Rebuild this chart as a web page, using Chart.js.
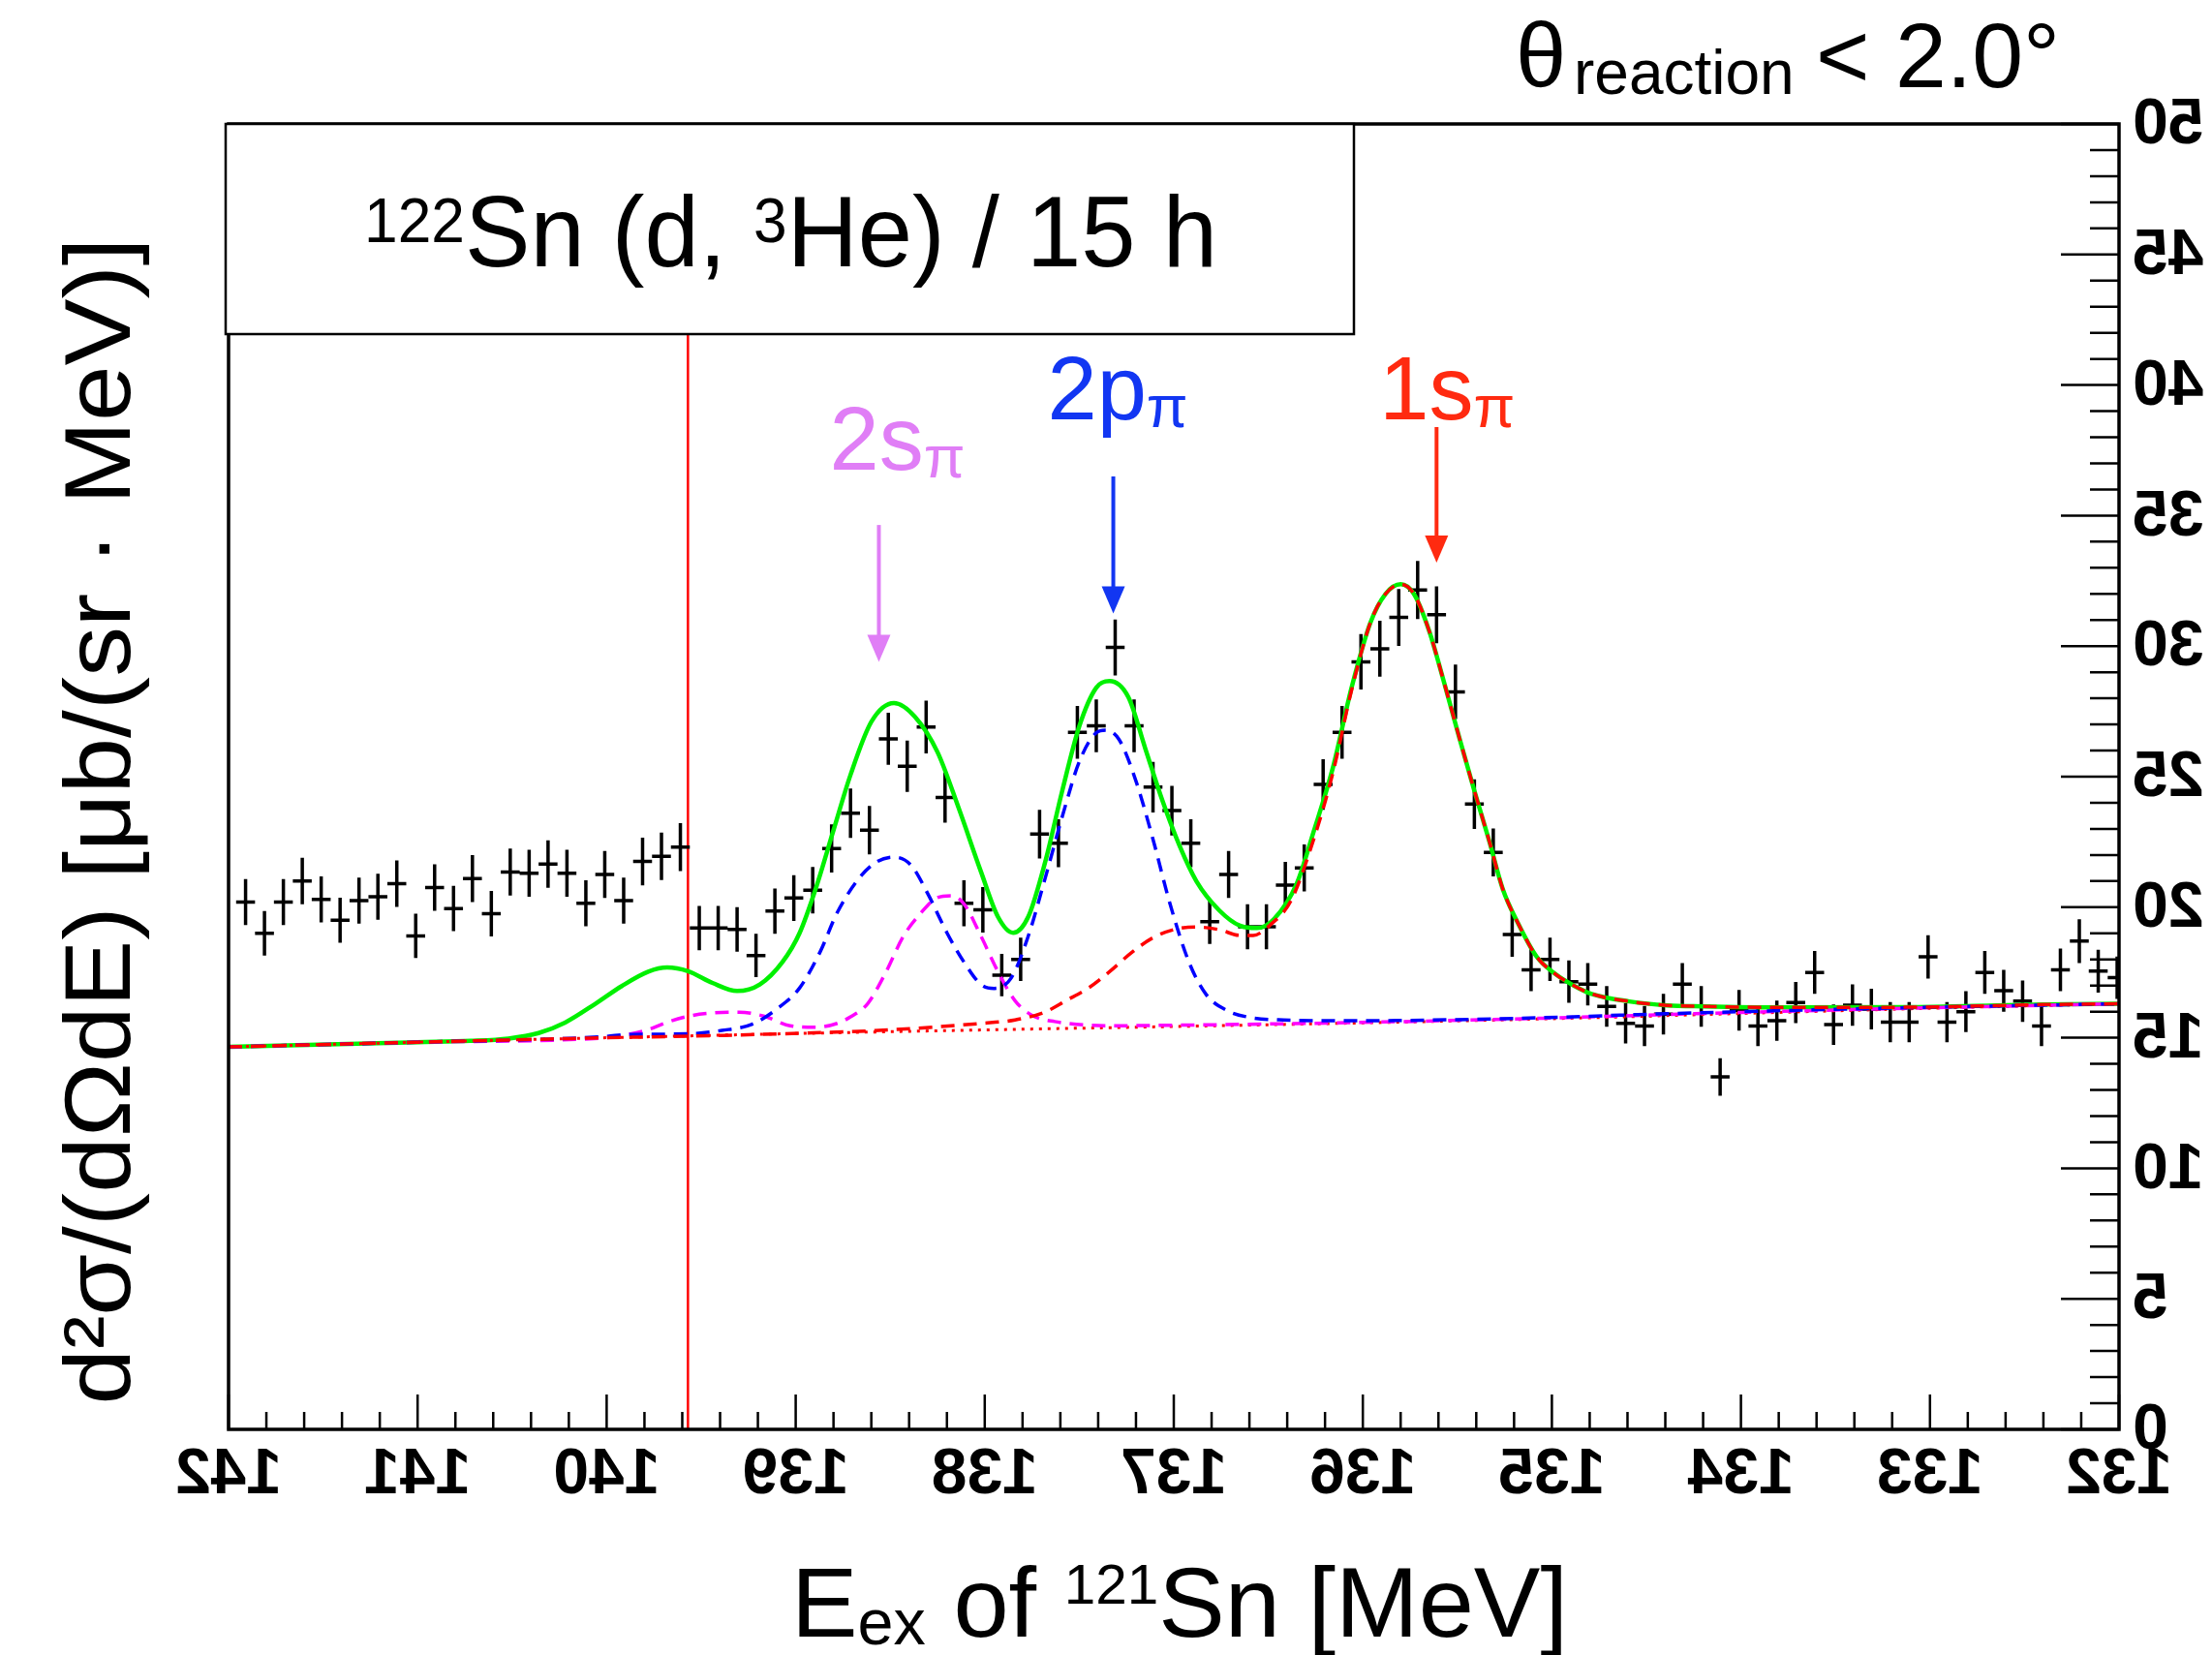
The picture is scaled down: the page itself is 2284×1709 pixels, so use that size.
<!DOCTYPE html>
<html><head><meta charset="utf-8">
<script src="https://cdn.jsdelivr.net/npm/chart.js@4.4.1/dist/chart.umd.min.js"></script>
<style>html,body{margin:0;padding:0;background:#fff;}canvas{display:block;}</style>
</head><body>
<canvas id="c" width="2284" height="1709"></canvas>
<script>
// ---------------- data ----------------
const binStart = 141.91;   // first bin centre [MeV]
const binWidth = 0.1;      // bin width [MeV]
const counts = [
 20.2,19.0,20.2,21.0,20.3,19.5,20.25,20.4,20.9,18.9,
 20.75,19.95,21.1,19.75,21.35,21.3,21.65,21.3,20.15,21.25,
 20.25,21.75,21.95,22.3,19.2,19.2,19.15,18.15,19.85,20.35,
 20.65,22.25,23.6,22.95,26.45,25.4,26.9,24.2,20.15,19.9,
 17.4,18.0,22.8,22.45,26.7,26.95,29.95,26.95,24.6,23.7,
 22.45,19.45,21.25,19.25,19.25,20.85,21.5,24.7,26.7,29.4,
 29.9,31.1,32.15,31.2,28.25,23.95,22.1,18.95,17.6,18.0,
 17.15,17.05,16.2,15.55,15.45,15.9,17.05,16.2,13.5,16.05,
 15.45,15.65,16.35,17.5,15.5,16.25,16.1,15.6,15.6,18.1,
 15.6,16.0,17.5,16.8,16.4,15.45,17.6,18.7,17.55,17.3];
const errors = [
 .88,.85,.88,.89,.88,.86,.88,.88,.89,.85,
 .89,.87,.90,.87,.90,.90,.91,.90,.88,.90,
 .88,.91,.91,.92,.85,.85,.85,.83,.87,.88,
 .89,.92,.95,.93,1.00,.98,1.01,.96,.88,.87,
 .81,.83,.93,.92,1.01,1.01,1.07,1.01,.97,.95,
 .92,.86,.90,.86,.86,.89,.90,.97,1.01,1.06,
 1.07,1.09,1.11,1.09,1.04,.95,.92,.85,.82,.83,
 .81,.81,.78,.77,.77,.78,.81,.78,.72,.78,
 .77,.77,.79,.82,.77,.79,.78,.77,.77,.83,
 .77,.78,.82,.80,.79,.77,.82,.84,.82,.81];

// total fit (green)
const totalE = [142.0,141.0,140.72,140.52,140.36,140.22,140.06,139.92,139.78,139.68,139.57,139.44,139.31,139.19,139.07,138.98,138.89,138.80,138.71,138.60,138.48,138.37,138.25,138.14,138.02,137.93,137.85,137.77,137.68,137.59,137.50,137.41,137.34,137.24,137.15,137.06,136.97,136.88,136.76,136.65,136.56,136.47,136.35,136.26,136.16,136.06,135.96,135.88,135.80,135.73,135.65,135.57,135.49,135.41,135.33,135.26,135.18,135.08,134.98,134.88,134.79,134.59,134.39,134.20,133.80,133.10,132.40,132.0];
const totalV = [14.65,14.83,14.88,14.97,15.18,15.58,16.30,16.98,17.53,17.69,17.55,17.10,16.79,17.04,17.90,19.00,20.80,22.95,25.07,27.10,27.82,27.30,25.94,23.84,21.36,19.63,19.02,19.63,21.74,24.46,26.93,28.41,28.66,28.04,26.06,24.08,22.36,20.99,19.88,19.29,19.20,19.55,20.90,22.90,25.30,28.40,30.90,32.00,32.37,32.00,30.60,28.60,26.50,24.46,22.50,20.70,19.40,18.10,17.43,16.98,16.68,16.39,16.24,16.20,16.16,16.17,16.27,16.30];

// 2p component + background (blue dashed)
const p2E = [142.0,141.0,140.0,139.9,139.57,139.39,139.23,139.10,138.98,138.87,138.78,138.66,138.57,138.48,138.39,138.30,138.20,138.11,138.02,137.95,137.86,137.77,137.68,137.59,137.50,137.41,137.36,137.29,137.20,137.11,137.02,136.92,136.83,136.72,136.60,136.42,136.06,135.2,134.4,134.0,133.0,132.4,132.0];
const p2V = [14.65,14.83,15.05,15.12,15.15,15.28,15.52,16.10,16.90,18.30,19.80,21.15,21.74,21.92,21.61,20.50,19.02,17.90,17.04,16.89,17.29,18.89,21.12,23.47,25.57,26.68,26.78,26.43,24.83,22.60,20.13,17.90,16.67,16.05,15.78,15.68,15.65,15.74,15.92,16.00,16.17,16.25,16.30];

// 2s component + background (magenta dashed)
const s2E = [142.0,141.0,140.0,139.92,139.78,139.67,139.55,139.44,139.30,139.17,139.03,138.90,138.78,138.71,138.62,138.53,138.43,138.34,138.25,138.18,138.11,138.02,137.93,137.84,137.75,137.63,137.34,136.88,136.06,135.2,134.0,133.0,132.0];
const s2V = [14.65,14.83,15.00,15.08,15.31,15.62,15.85,15.95,15.98,15.83,15.46,15.40,15.55,15.80,16.30,17.41,18.89,19.76,20.37,20.44,20.13,18.89,17.53,16.42,15.86,15.62,15.46,15.49,15.58,15.72,15.97,16.15,16.30];

// 1s component + background (red dashed)
const s1E = [142.0,141.0,140.0,139.57,138.94,138.48,138.02,137.84,137.68,137.57,137.45,137.34,137.22,137.11,136.99,136.88,136.76,136.65,136.58,136.49,136.38,136.26,136.16,136.06,135.96,135.88,135.80,135.73,135.65,135.57,135.49,135.41,135.33,135.26,135.18,135.08,134.98,134.88,134.79,134.59,134.39,134.20,133.80,133.10,132.40,132.0];
const s1V = [14.65,14.83,15.00,15.06,15.18,15.31,15.55,15.68,15.99,16.42,16.91,17.53,18.28,18.83,19.16,19.24,19.14,18.92,18.92,19.32,20.25,22.60,25.10,28.30,30.90,32.00,32.37,32.00,30.60,28.60,26.50,24.46,22.50,20.70,19.40,18.10,17.43,16.98,16.68,16.39,16.24,16.20,16.16,16.17,16.27,16.30];

// background (red dotted)
const bgE = [142,141,140,139,138,137,136,135,134,133,132];
const bgV = [14.65,14.83,15.00,15.16,15.30,15.43,15.57,15.73,15.93,16.13,16.30];

// axis ticks
const xTickLabels = ['142','141','140','139','138','137','136','135','134','133','132'];
const yTickLabels = ['0','5','10','15','20','25','30','35','40','45','50'];
const xMinorStep = 0.2, yMinorStep = 1;

// pion emission threshold and peak annotations
const thresholdE = 139.57;
const peakNames = ['2s','2p','1s'];
const peakE     = [138.56, 137.32, 135.61];
const arrowTop  = [34.64, 36.50, 38.39];
const arrowTip  = [29.40, 31.25, 33.20];

const texts = {
  title: '122Sn (d, 3He) / 15 h',
  cut: 'θreaction < 2.0°',
  xTitle: 'Eex of 121Sn [MeV]',
  yTitle: 'd²σ/(dΩdE) [μb/(sr · MeV)]'
};

// ---------------- styles ----------------
const F = '"Liberation Sans", Arial, Helvetica, sans-serif';
const peakColors = ['#e07ef6', '#1236f2', '#ff2a10'];
const labelDX = [-51, -68, -59];   // px, label start relative to arrow
const labelDY = [-57, -59, -8];    // px, label baseline relative to arrow top
const boxPx = {l: 233, t: 128, r: 1398, b: 345};

const pts = (E, V) => E.map((e, i) => ({x: e, y: V[i]}));
const binCenters = counts.map((_, i) => +(binStart - i * binWidth).toFixed(3));

function curve(E, V, color, dash, width, order) {
  return {data: pts(E, V), showLine: true, pointRadius: 0, borderColor: color,
    borderWidth: width, borderDash: dash, cubicInterpolationMode: 'monotone',
    fill: false, order: order};
}

function pieces(ctx, list) { // list: [text, size, dy]
  let w = 0;
  for (const p of list) { ctx.font = p[1] + 'px ' + F; w += ctx.measureText(p[0]).width; }
  return w;
}
function drawPieces(ctx, list, x, y, fitW) {
  ctx.save();
  ctx.translate(x, y);
  if (fitW) { const w = pieces(ctx, list); ctx.scale(fitW / w, 1); }
  let cx = 0;
  ctx.textAlign = 'left'; ctx.textBaseline = 'alphabetic';
  for (const p of list) {
    ctx.font = (p[3] ? 'bold ' : '') + p[1] + 'px ' + F;
    ctx.fillText(p[0], cx, p[2]);
    cx += ctx.measureText(p[0]).width;
  }
  ctx.restore();
}
function mirrorText(ctx, txt, x, y, align) {
  ctx.save(); ctx.translate(x, y); ctx.scale(-1, 1);
  ctx.textAlign = align; ctx.fillText(txt, 0, 0); ctx.restore();
}

const rootPlugin = {
  id: 'rootStyle',
  beforeDatasetsDraw(chart) {
    const {ctx, chartArea: a, scales: {x, y}} = chart;
    ctx.save();
    // threshold line
    ctx.strokeStyle = '#ff0000'; ctx.lineWidth = 2.5;
    const tx = x.getPixelForValue(thresholdE);
    ctx.beginPath(); ctx.moveTo(tx, a.bottom); ctx.lineTo(tx, boxPx.b); ctx.stroke();
    // data crosses
    ctx.beginPath(); ctx.rect(a.left, a.top, a.width, a.height); ctx.clip();
    ctx.strokeStyle = '#000'; ctx.lineWidth = 3.5; ctx.lineCap = 'butt';
    ctx.beginPath();
    counts.forEach((v, i) => {
      const e = binCenters[i];
      const px = x.getPixelForValue(e), py = y.getPixelForValue(v);
      ctx.moveTo(x.getPixelForValue(e + binWidth / 2), py);
      ctx.lineTo(x.getPixelForValue(e - binWidth / 2), py);
      ctx.moveTo(px, y.getPixelForValue(v + errors[i]));
      ctx.lineTo(px, y.getPixelForValue(v - errors[i]));
    });
    ctx.stroke();
    ctx.restore();
  },
  afterDraw(chart) {
    const {ctx, chartArea: a, scales: {x, y}} = chart;
    ctx.save();
    ctx.fillStyle = '#000'; ctx.strokeStyle = '#000';
    // frame
    ctx.lineWidth = 3.5;
    ctx.strokeRect(a.left, a.top, a.width, a.height);
    // x ticks (inward from bottom)
    ctx.lineWidth = 2.5;
    ctx.beginPath();
    for (let v = x.min; v <= x.max + 1e-6; v += xMinorStep) {
      const px = x.getPixelForValue(v);
      const major = Math.abs(v - Math.round(v)) < 1e-6;
      ctx.moveTo(px, a.bottom); ctx.lineTo(px, a.bottom - (major ? 36 : 18));
    }
    // y ticks (inward from right)
    for (let v = y.min; v <= y.max + 1e-6; v += yMinorStep) {
      const py = y.getPixelForValue(v);
      const major = Math.abs(v / 5 - Math.round(v / 5)) < 1e-6;
      ctx.moveTo(a.right, py); ctx.lineTo(a.right - (major ? 60 : 30), py);
    }
    ctx.stroke();
    // mirrored tick labels
    ctx.font = 'bold 66px ' + F; ctx.textBaseline = 'middle';
    xTickLabels.forEach(t => mirrorText(ctx, t, x.getPixelForValue(+t), a.bottom + 48, 'center'));
    yTickLabels.forEach(t => mirrorText(ctx, t, a.right + 14, y.getPixelForValue(+t) + 2, 'right'));
    ctx.textBaseline = 'alphabetic';
    // title box
    ctx.fillStyle = '#fff';
    ctx.fillRect(boxPx.l, boxPx.t, boxPx.r - boxPx.l, boxPx.b - boxPx.t);
    ctx.lineWidth = 2.5; ctx.strokeStyle = '#000';
    ctx.strokeRect(boxPx.l, boxPx.t, boxPx.r - boxPx.l, boxPx.b - boxPx.t);
    ctx.fillStyle = '#000';
    drawPieces(ctx, [['122', 64, -25], ['Sn (d, ', 104, 0], ['3', 64, -25], ['He) / 15 h', 104, 0]], 376, 275, 881);
    // top-right cut text
    drawPieces(ctx, [['θ', 94, 0]], 1565, 90);
    drawPieces(ctx, [['reaction', 64, 0]], 1625, 97);
    drawPieces(ctx, [['< 2.0°', 94, 0]], 1875, 90, 252);
    // axis titles
    drawPieces(ctx, [['E', 102, 0], ['ex', 66, 8], [' of ', 102, 0], ['121', 58, -34], ['Sn [MeV]', 102, 0]], 817, 1690, 802);
    ctx.save();
    ctx.translate(134, 848); ctx.rotate(-Math.PI / 2);
    ctx.font = '97px ' + F;
    const yw = ctx.measureText(texts.yTitle).width;
    ctx.scale(1205 / yw, 1);
    ctx.textAlign = 'center'; ctx.fillText(texts.yTitle, 0, 0);
    ctx.restore();
    // peak arrows + labels
    peakNames.forEach((nm, i) => {
      const ax = x.getPixelForValue(peakE[i]);
      const yt = y.getPixelForValue(arrowTop[i]);
      const yp = y.getPixelForValue(arrowTip[i]);
      ctx.strokeStyle = peakColors[i]; ctx.fillStyle = peakColors[i];
      ctx.lineWidth = 4;
      ctx.beginPath(); ctx.moveTo(ax, yt); ctx.lineTo(ax, yp - 20); ctx.stroke();
      ctx.beginPath(); ctx.moveTo(ax, yp); ctx.lineTo(ax - 12, yp - 28); ctx.lineTo(ax + 12, yp - 28); ctx.closePath(); ctx.fill();
      drawPieces(ctx, [[nm, 92, 0], ['π', 62, 8]], ax + labelDX[i], yt + labelDY[i]);
    });
    ctx.restore();
  }
};

new Chart(document.getElementById('c'), {
  type: 'scatter',
  data: {datasets: [
    {label: 'data', data: pts(binCenters, counts), pointRadius: 0, showLine: false, order: 0},
    curve(s1E, s1V, '#ff0000', [14, 9], 3.5, 1),
    curve(p2E, p2V, '#0000ff', [14, 9], 3.5, 2),
    curve(s2E, s2V, '#ff00ff', [14, 9], 3.5, 3),
    curve(bgE, bgV, '#ff0000', [3, 6], 3, 4),
    curve(totalE, totalV, '#00f000', [], 4.5, 5)
  ]},
  options: {
    responsive: false, animation: false, devicePixelRatio: 1,
    layout: {padding: {left: 236, right: 96, top: 128, bottom: 233}},
    plugins: {legend: {display: false}, tooltip: {enabled: false}},
    scales: {
      x: {type: 'linear', min: 132, max: 142, reverse: true, display: false},
      y: {type: 'linear', min: 0, max: 50, display: false}
    }
  },
  plugins: [rootPlugin]
});
</script>
</body></html>
